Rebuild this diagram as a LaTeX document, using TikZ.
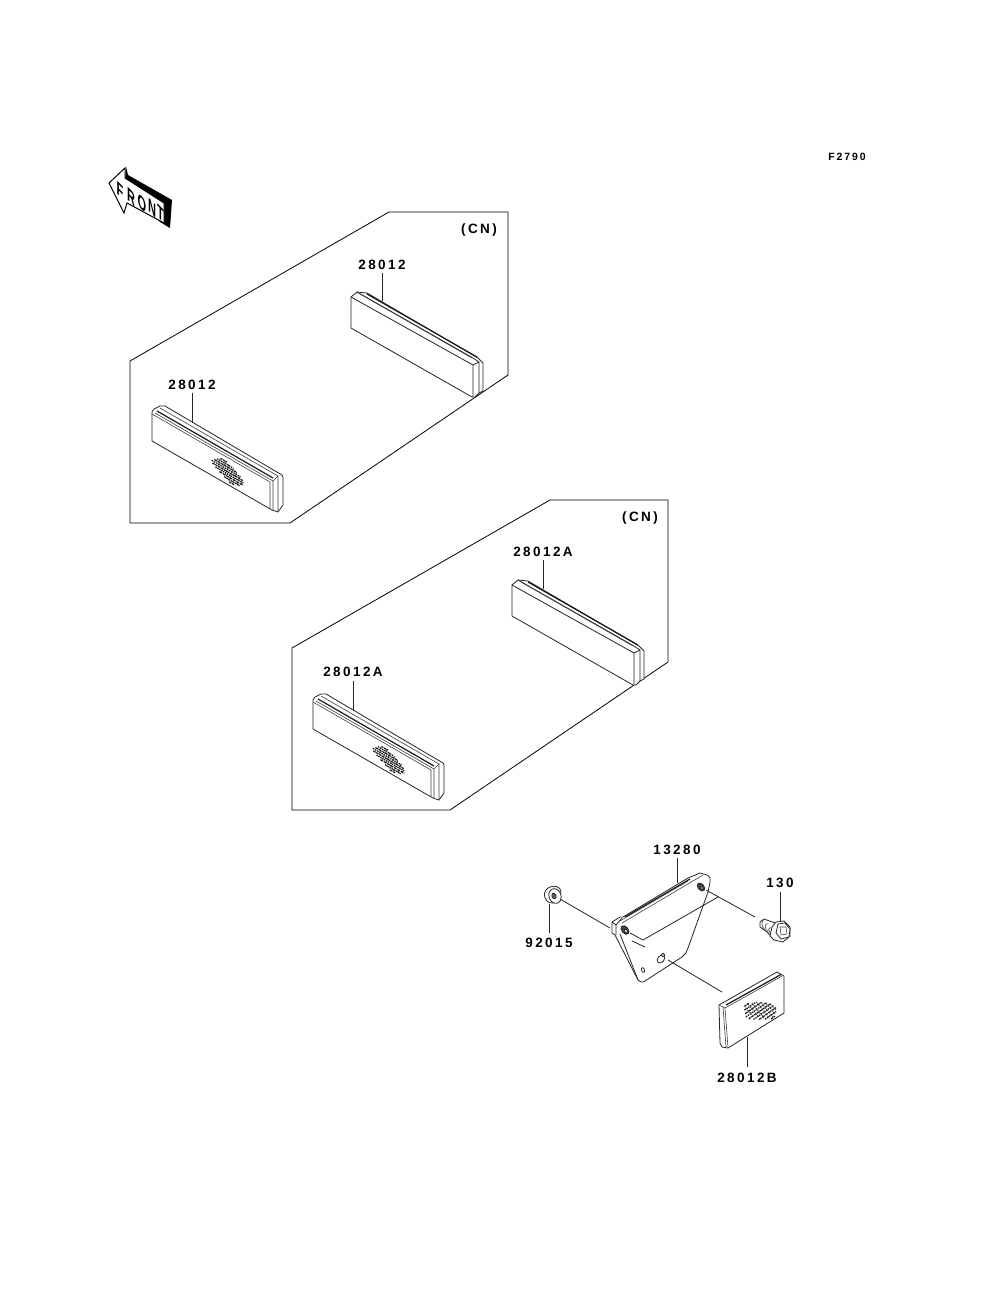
\documentclass[tikz,border=0pt]{standalone}
\usepackage{fontspec}
\setmainfont{Liberation Sans}
\newfontfamily\lblfont[LetterSpace=18]{Liberation Sans}
\tikzset{
  lbl/.style={inner sep=0pt,font=\lblfont\bfseries\fontsize{13.5}{14}\selectfont},
  slbl/.style={inner sep=0pt,font=\lblfont\bfseries\fontsize{10.5}{11}\selectfont},
  lead/.style={draw=black!85,line width=0.8pt},
  part/.style={draw=black!85,line width=0.8pt,line join=round},
  frame/.style={draw=black,line width=0.8pt},
  thin part/.style={draw=black!75,line width=0.6pt},
  dark part/.style={draw=black!90,line width=1.2pt},
  letter/.style={inner sep=0pt,font=\bfseries\fontsize{19}{19}\selectfont,xscale=0.58,yscale=1,yslant=-0.6},
}
% cx cy xscale yscale angle
\newcommand{\emblem}[5]{%
  \begin{scope}[shift={(#1,#2)},rotate=#5,xscale=#3,yscale=#4]
    \foreach \yy/\sx/\ex/\da/\db in {-8/-14/-6/2.2/0.8,-6/-17/2/1.5/0.8,-4/-19/8/3/0.7,-2/-21/14/1.6/0.9,0/-19/18/2.6/0.7,2/-14/20/1.4/0.8,4/-8/21/3/0.9,6/-1/18/1.8/0.7,8/6/13/2.5/0.8}{
      \draw[black!90,line width=1.2pt,dash pattern=on \da pt off \db pt] (\sx,\yy) -- (\ex,\yy);
    }
    \foreach \xx/\sy/\ey in {-14/-7/-1,-8/-8/3,-3/-7/5,3/-6/7,8/-4/8,13/-2/7,17/0/5}{
      \draw[black!80,line width=0.8pt,dash pattern=on 2pt off 1pt] (\xx,\sy) -- (\xx+2,\ey);
    }
  \end{scope}}
\newcommand{\plainrefl}[2]{%
  \begin{scope}[shift={(#1,#2)}]
    \draw[part,fill=white] (351,297) -- (357,292) -- (367,293) -- (478,358) -- (483,363) -- (483,391) -- (479,393) -- (478,394) -- (475,397) -- (472,397) -- (351,328) -- cycle;
    \draw[part] (351,297) -- (473,365) -- (473,397);
    \draw[part] (357,292) -- (473,358) -- (479,362) -- (479,393);
    \draw[part] (473,365) -- (479,362);
    \draw[dark part] (367,294) -- (477,357);
    \draw[thin part] (360,294) -- (472,358);
  \end{scope}}
\newcommand{\emblemrefl}[2]{%
  \begin{scope}[shift={(#1,#2)}]
    \draw[part,fill=white] (152,412) -- (154,409) -- (160,406) -- (165,406) -- (282,475) -- (283,477) -- (283,505) -- (278,512) -- (272,510) -- (152,441) -- cycle;
    \draw[thin part] (152,414) -- (270,482) -- (270,509);
    \draw[dark part] (157,411) -- (273,478);
    \draw[thin part] (155,413) -- (273,481) -- (273,510);
    \draw[thin part] (160,408) -- (278,476) -- (278,512);
    \draw[thin part] (273,481) -- (278,476);
    \emblem{228}{472}{0.95}{1}{-30}
  \end{scope}}
\begin{document}
\begin{tikzpicture}[x=1pt,y=-1pt]
\useasboundingbox (0,0) rectangle (1000,1309);
\fill[white] (0,0) rectangle (1000,1309);

\node[slbl] (fig) at (847,157) {F2790};

% front arrow
\fill[black] (126,167) -- (128,175) -- (172,200) -- (170,228) -- (160,222) -- (125,185) -- cycle;
\draw[black,fill=white,line width=1pt,line join=miter]
  (109,183) -- (125,168) -- (125,178) -- (164,203) -- (164,223) -- (127,203) -- (124,213) -- cycle;
\foreach \c/\x/\y in {F/120/190,R/131/197,O/142/203,N/152/208,T/160.5/213}{
  \node[letter] (front\c) at (\x,\y) {\c};
}

% frame 1
\draw[frame] (130,361) -- (389,212) -- (508,212) -- (508,375) -- (290,523) -- (130,523) -- cycle;
\node[lbl] (cn1) at (479,230) {(CN)};
\node[lbl] (l1) at (382,265) {28012};
\coordinate (l1e) at (382,273);
\coordinate (r1t) at (382,301);
\plainrefl{0}{0}
\draw[lead] (l1e) -- (r1t);
\node[lbl] (l2) at (192,385) {28012};
\coordinate (l2e) at (192,393);
\coordinate (r2t) at (192,423);
\emblemrefl{0}{0}
\draw[lead] (l2e) -- (r2t);

% frame 2
\draw[frame] (292,648) -- (550,500) -- (668,500) -- (668,662) -- (450,810) -- (292,810) -- cycle;
\node[lbl] (cn2) at (640,518) {(CN)};
\node[lbl] (l3) at (543,552) {28012A};
\coordinate (l3e) at (543,560);
\coordinate (r3t) at (543,589);
\plainrefl{161}{288}
\draw[lead] (l3e) -- (r3t);
\node[lbl] (l4) at (353,672) {28012A};
\coordinate (l4e) at (353,681);
\coordinate (r4t) at (353,711);
\emblemrefl{161}{288}
\draw[lead] (l4e) -- (r4t);

% bracket
\node[lbl] (l5) at (677,850) {13280};
\coordinate (l5e) at (677,858);
\coordinate (bt) at (677,883);
\draw[part,fill=white] (612,922) -- (620,917) -- (623,917) -- (688,878) -- (700,873) -- (707,875)
  .. controls (710,877) and (711,879) .. (710,882) -- (708,892) -- (688,948)
  .. controls (686,953) and (685,955) .. (682,957) -- (645,981)
  .. controls (642,983) and (640,982) .. (638,980) -- (615,935) -- (612,933) -- cycle;
\draw[thin part] (622,923) -- (703,875);
\draw[dark part] (625,917) -- (690,879);
\draw[thin part] (620,921) -- (688,881);
\draw[part] (612,922) -- (616,925) -- (616,935);
\draw[part] (616,925) -- (622,918);
\draw[part] (620,934) -- (638,980);
\draw[part,fill=black!75,rotate around={-50:(625,930)}] (625,930) ellipse (5 and 3.2);
\draw[part,fill=white,rotate around={-50:(626,931)}] (626,931) ellipse (2 and 1.4);
\draw[part,fill=black!75,rotate around={-50:(701,887)}] (701,887) ellipse (4.6 and 3);
\draw[part,fill=white,rotate around={-50:(702,888)}] (702,888) ellipse (1.8 and 1.3);
\draw[part,fill=white,rotate around={-40:(661,959)}] (661,959) ellipse (3.2 and 4.5);
\draw[part,fill=white] (663,955) circle (1.8);
\draw[part,fill=white,rotate around={20:(643,970)}] (643,970) ellipse (1.5 and 2.5);
\draw[part] (630,933) -- (643,940) -- (718,897);
\draw[part] (632,941) -- (645,947);
\draw[lead] (l5e) -- (bt);

% nut 92015
\node[lbl] (l6) at (549,943) {92015};
\coordinate (l6e) at (549,933);
\coordinate (nutb) at (549,904);
\draw[part,fill=white] (550,887) .. controls (555,885) and (560,887) .. (561,891) -- (559,899)
  .. controls (556,904) and (550,904) .. (547,901) .. controls (543,897) and (543,890) .. (550,887) -- cycle;
\draw[part,fill=white,rotate around={20:(555,896)}] (555,896) ellipse (6 and 7.5);
\draw[part,fill=black!60,rotate around={20:(554,896)}] (554,896) ellipse (2 and 3);
\draw[lead] (l6e) -- (nutb);
\coordinate (nuta) at (560,899);
\coordinate (flange) at (610,928);
\draw[lead] (nuta) -- (flange);

% bolt 130
\node[lbl] (l7) at (780,883) {130};
\coordinate (l7e) at (780,892);
\coordinate (bolth) at (780,922);
\draw[lead] (l7e) -- (bolth);
\coordinate (hole1) at (706,890);
\coordinate (boltt) at (755,917);
\draw[lead] (hole1) -- (boltt);
\draw[part,fill=white] (760,922) -- (764,919) -- (778,924) -- (772,937) -- (767,932) -- (760,927) -- cycle;
\foreach \d in {0,3.4,6.8}{\draw[thin part] (764+\d,919.5+1.2*\d) .. controls (761+\d,921+\d) and (761+\d,926+0.8*\d) .. (765+\d,930+0.6*\d);}
\draw[part,fill=white] (776,922) -- (784,921) -- (790,927) -- (790,936) -- (783,942) -- (774,940) -- (770,936) -- (772,927) -- cycle;
\draw[part,fill=white] (778,924) -- (785,923) -- (790,929) -- (789,937) -- (781,939) -- (776,933) -- cycle;
\draw[thin part] (780,927) -- (786,927) -- (787,934) -- (781,935) -- cycle;

% small reflector
\coordinate (hole2) at (668,960);
\coordinate (refl) at (722,992);
\draw[lead] (hole2) -- (refl);
\draw[part,fill=white] (719,1005) -- (777,972) -- (784,976) -- (784,1013) -- (728,1048) -- (722,1047) -- (720,1043) -- cycle;
\draw[thin part] (719,1005) -- (725,1008) -- (782,976);
\draw[dark part] (726,1005) -- (781,974.5);
\draw[thin part] (725,1008) -- (728,1048);
\draw[thin part] (723,1006.5) -- (726,1047);
\emblem{760}{1011}{0.72}{1.6}{35}
\node[lbl] (l8) at (747,1078) {28012B};
\coordinate (l8e) at (747,1067);
\coordinate (rb) at (747,1037);
\draw[lead] (l8e) -- (rb);
\end{tikzpicture}
\end{document}
